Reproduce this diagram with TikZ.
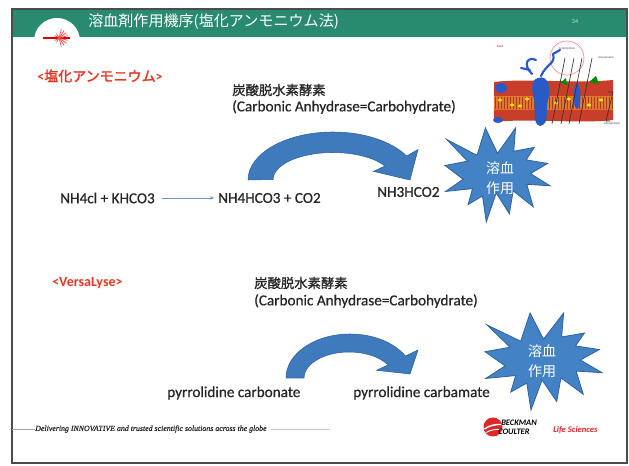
\documentclass[tikz,border=0pt]{standalone}
\usepackage{fontspec}
\setmainfont{Carlito}
\newfontfamily\bodyfont{Carlito}[FakeBold=0.6]
\newfontfamily\jp{Noto Sans CJK JP}[AutoFakeBold=2]
\newfontfamily\jpmed{Noto Sans CJK JP}[FakeBold=1.2]
\newfontfamily\ftserif{Liberation Serif}[FakeBold=0.5]
\usetikzlibrary{arrows.meta}

\definecolor{hdr}{RGB}{40,138,110}
\definecolor{lblred}{RGB}{232,55,35}
\definecolor{txt}{RGB}{38,38,38}
\definecolor{starblue}{RGB}{68,130,198}
\definecolor{staredge}{RGB}{48,98,158}
\definecolor{arrowblue}{RGB}{62,122,188}
\definecolor{memred}{RGB}{200,62,40}
\definecolor{memorange}{RGB}{226,120,50}
\definecolor{memdark}{RGB}{170,60,30}
\definecolor{protblue}{RGB}{40,90,200}
\definecolor{bcred}{RGB}{220,40,40}

% PowerPoint-style explosion outline in a 100x100 box
\newcommand{\burstpath}{(50,26.9) -- (67.2,0) -- (65.5,24.7) -- (85.1,20.6) -- (77.3,33.9) -- (97.7,37.7) -- (81.5,48.5) -- (100,61.5) -- (77.9,59.9) -- (84,83.8) -- (64.9,66.9) -- (61.3,91.3) -- (48.8,69.1) -- (39.3,100) -- (35.7,72.3) -- (22,81.5) -- (26.2,64.5) -- (0.6,67.5) -- (17.2,54.5) -- (0,39.9) -- (21.4,35.3) -- (1.7,12.3) -- (30.5,29.1) -- (38.5,0) -- cycle}

\begin{document}
\begin{tikzpicture}[x=0.75pt,y=-0.75pt,
  body/.style={text=txt,font=\bodyfont\fontsize{11.4}{13}\selectfont,inner sep=0pt},
  jpbody/.style={text=txt,font=\jpmed\fontsize{10}{12}\selectfont,inner sep=0pt},
  redlbl/.style={text=lblred,font=\bfseries\fontsize{10.5}{12}\selectfont,inner sep=0pt},
  startxt/.style={text=white,font=\jp\fontsize{10.5}{15}\selectfont,align=center,inner sep=0pt},
  burstfill/.style={fill=starblue,draw=staredge,line width=0.6pt,line join=miter},
  bigarrow/.style={fill=arrowblue,draw=staredge,line width=0.4pt},
  thinarrow/.style={draw=arrowblue!80,line width=0.5pt,-{Stealth[length=3pt,width=2.6pt]}},
  tinylbl/.style={font=\fontsize{2.2}{2.6}\selectfont,inner sep=0pt,text=black!75}
]
\useasboundingbox (0,0) rectangle (629,466);
\fill[white] (0,0) rectangle (629,466);

% header band with logo bump
\fill[hdr] (12,9) rectangle (627,37);
\fill[white] (57,41) circle (23);
\draw[red!85!black, line width=1.6pt] (43,38) -- (70,38);
\foreach \a in {-75,-55,-35,-15,15,35,55,75}
  \draw[red!75, line width=0.5pt] (59,38) -- ++(\a:9);
\foreach \a in {120,150,210,240}
  \draw[red!75, line width=0.5pt] (59,38) -- ++(\a:5);
\node[anchor=west, text=white, font=\jp\fontsize{11.3}{13}\selectfont, inner sep=0pt] (title) at (88,22) {溶血剤作用機序(塩化アンモニウム法)};
\node[text=white!75!hdr, font=\fontsize{4.5}{5}\selectfont, inner sep=0pt] (pg) at (575,22) {34};

% slide frame
\draw[black!70, line width=0.8pt] (12,9) rectangle (627,463);

% membrane illustration
\fill[white] (490,40) rectangle (624,127);
\draw[red!45, line width=0.5pt] (567,58) circle (17);
\fill[memred] (494,82) .. controls (530,78) and (570,84) .. (613,80) -- (613,96) -- (494,96) -- cycle;
\fill[memorange] (494,96) rectangle (613,110);
\fill[memred] (494,110) -- (613,110) -- (613,120) .. controls (580,124) and (530,118) .. (494,122) -- cycle;
\foreach \i in {0,...,39}
  \draw[memdark, line width=0.3pt] (495+\i*3,97) -- (495+\i*3,109);
\foreach \p in {(500,100),(512,105),(527,99),(556,103),(569,99),(589,105),(601,100),(520,106)}
  \fill[yellow!90!orange] \p ellipse (2 and 1.5);
\fill[protblue] (501,88) ellipse (6 and 5);
\fill[protblue] (498,120) ellipse (5 and 3);
\fill[protblue] (538,78) .. controls (548,74) and (552,90) .. (548,100) .. controls (545,112) and (550,124) .. (540,126) .. controls (532,124) and (536,110) .. (534,100) .. controls (532,90) and (530,80) .. (538,78) -- cycle;
\fill[protblue] (577,96) ellipse (3.5 and 13);
\draw[protblue, line width=1.6pt, line cap=round] (532,74) .. controls (522,64) and (528,56) .. (536,60);
\draw[protblue, line width=1.6pt, line cap=round] (541,76) .. controls (546,64) and (556,64) .. (553,54);
\draw[protblue, line width=1.6pt, line cap=round] (530,70) -- (521,68);
\draw[protblue, line width=1.6pt, line cap=round] (553,54) -- (560,50);
\fill[green!55!black] (589,82) -- (596,76) -- (599,84) -- cycle;
\fill[green!55!black] (560,83) -- (566,78) -- (567,85) -- cycle;
\foreach \a/\b in {565/552, 574/561, 582/569, 592/579}
  \draw[black!80, line width=0.5pt] (\a,58) -- (\b,124);
\draw[black!80, line width=0.5pt] (608,92) -- (613,92) -- (606,121) -- (610,121);
\node[tinylbl, text=red!60!black] (mfluid) at (500,46) {Fluid};
\node[tinylbl] (mcarb) at (567,49) {Carbohydrate};
\node[tinylbl] (mglyc) at (606,58) {Glycoprotein};
\node[tinylbl] (mphos) at (612,124) {Phospholipid};

% section 1: ammonium chloride
\node[redlbl, anchor=west] (lab1) at (37,76) {<{\jp 塩化アンモニウム}>};
\node[jpbody, anchor=west] (enz1) at (232,90) {炭酸脱水素酵素};
\node[body, anchor=west] (ca1) at (232,107) {(Carbonic Anhydrase=Carbohydrate)};
\node[body, anchor=west] (r1) at (60,198) {NH4cl + KHCO3};
\node[body, anchor=west] (p1) at (218,198) {NH4HCO3 + CO2};
\node[body, anchor=west] (p2) at (377,192) {NH3HCO2};
\draw[thinarrow, shorten <=5pt, shorten >=3pt] (r1.east) -- (p1.west);

\fill[bigarrow] (248,180) arc[start angle=180, end angle=330, x radius=85, y radius=48]
  -- (418,149.5) -- (410,180) -- (373.5,171.4) -- (385,166)
  arc[start angle=330, end angle=180, x radius=60, y radius=27] -- cycle;

\begin{scope}[shift={(445,128)}, xscale=1.05, yscale=0.94]
  \filldraw[burstfill] \burstpath;
\end{scope}
\node[startxt] (burst1) at (500,178) {溶血\\作用};

% section 2: VersaLyse
\node[redlbl, anchor=west] (lab2) at (52,283) {<VersaLyse>};
\node[jpbody, anchor=west] (enz2) at (254,283) {炭酸脱水素酵素};
\node[body, anchor=west] (ca2) at (254,301) {(Carbonic Anhydrase=Carbohydrate)};
\node[body, anchor=west] (pc1) at (167,393) {pyrrolidine carbonate};
\node[body, anchor=west] (pc2) at (353,393) {pyrrolidine carbamate};

\fill[bigarrow] (286,378) arc[start angle=180, end angle=330, x radius=64, y radius=44]
  -- (418,350) -- (410,374) -- (376.5,370.3) -- (388,365)
  arc[start angle=330, end angle=180, x radius=45, y radius=26] -- cycle;

\begin{scope}[shift={(485,313)}, xscale=1.17, yscale=0.97]
  \filldraw[burstfill] \burstpath;
\end{scope}
\node[startxt] (burst2) at (542,361) {溶血\\作用};

% footer
\node[font=\ftserif\itshape\fontsize{5.9}{6.5}\selectfont, text=black!85, anchor=west, inner sep=0pt] (slogan) at (35,429) {Delivering INNOVATIVE and trusted scientific solutions across the globe};
\coordinate (lineL) at (12,429);
\coordinate (lineR) at (330,429);
\draw[black!35, line width=0.5pt] (lineL) -- (slogan.west);
\draw[black!20, line width=0.5pt, shorten <=3pt] (slogan.east) -- (lineR);

\fill[bcred] (493,427) circle (9.5);
\draw[white, line width=1.1pt] (484.5,429) .. controls (489,425.5) and (496,424) .. (502,424.5);
\draw[white, line width=0.7pt] (486,432.5) .. controls (490,430) and (496,429) .. (501,429.5);
\node[font=\bfseries\itshape\fontsize{6.3}{7}\selectfont, anchor=west, inner sep=0pt] (bk) at (501,423) {BECKMAN};
\node[font=\bfseries\itshape\fontsize{6.3}{7}\selectfont, anchor=west, inner sep=0pt] (ct) at (498,432) {COULTER};
\node[text=bcred, font=\bfseries\itshape\fontsize{6.5}{7}\selectfont, anchor=west, inner sep=0pt] (ls) at (553,430) {Life Sciences};
\end{tikzpicture}
\end{document}
